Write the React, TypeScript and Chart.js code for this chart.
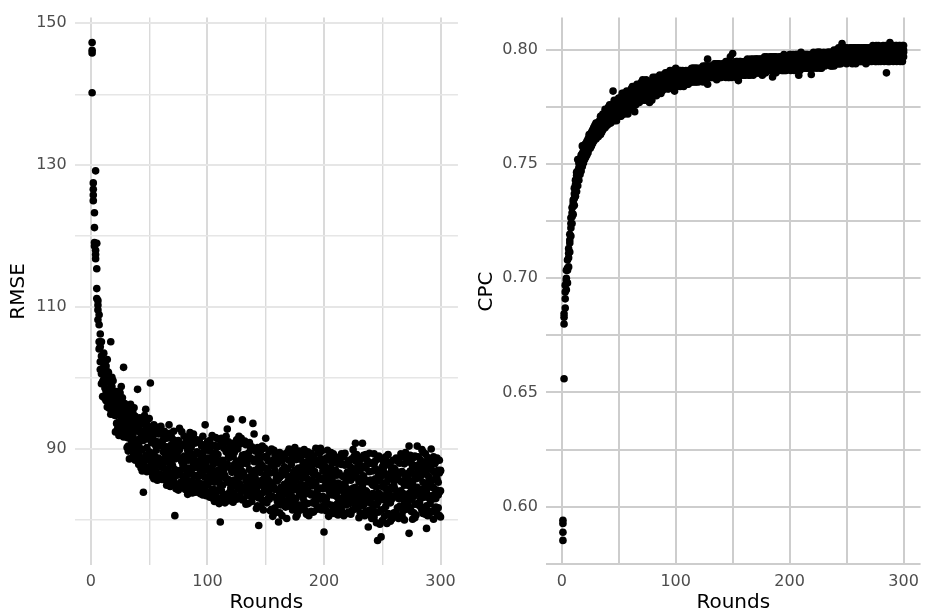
import { useEffect, useRef } from "react";
import { Chart, registerables } from "chart.js";

Chart.register(...registerables);
Chart.defaults.font.family = "'DejaVu Sans', 'Liberation Sans', sans-serif";

// Training rounds (x) shared by every run
const rounds = Array.from({ length: 300 }, (_, i) => i + 1);

// RMSE per round, four runs
const rmseRunA = [
  147.3, 127.5, 123.3, 118.0, 115.4, 110.3, 107.5, 106.2, 103.1, 101.2,
  99.8, 102.4, 98.1, 100.9, 97.2, 99.6, 96.4, 98.8, 95.1, 97.9,
  94.7, 97.6, 95.2, 93.8, 97.9, 94.3, 92.6, 96.1, 93.4, 95.0,
  91.6, 94.8, 92.3, 90.1, 95.4, 91.9, 89.6, 93.7, 90.8, 92.5,
  89.4, 92.6, 88.1, 91.7, 93.9, 87.6, 95.6, 90.2, 88.8, 92.1,
  99.3, 88.4, 91.5, 87.2, 90.6, 86.9, 92.3, 88.7, 90.9, 86.4,
  87.4, 91.3, 85.9, 89.2, 86.6, 92.0, 88.1, 85.2, 90.6, 87.7,
  85.8, 80.6, 89.9, 86.3, 91.2, 84.6, 88.5, 92.4, 86.1, 89.0,
  84.3, 88.9, 86.4, 91.6, 85.1, 89.3, 83.8, 87.9, 90.8, 86.2,
  89.6, 85.3, 88.1, 83.7, 90.4, 86.9, 84.5, 93.4, 87.6, 85.8,
  88.4, 83.2, 90.3, 85.6, 87.8, 82.6, 89.1, 86.3, 91.4, 84.1,
  79.7, 87.5, 84.9, 90.1, 86.2, 83.0, 92.8, 85.7, 88.8, 94.2,
  86.7, 82.5, 89.5, 84.8, 91.3, 87.0, 91.8, 83.4, 88.6, 94.1,
  84.6, 89.2, 82.2, 87.9, 85.3, 90.9, 83.8, 86.4, 93.6, 85.0,
  89.7, 84.2, 86.8, 79.2, 88.1, 83.6, 90.4, 85.2, 87.3, 91.5,
  84.1, 88.3, 82.9, 86.6, 90.0, 83.3, 87.5, 81.7, 85.8, 89.4,
  79.7, 86.0, 88.9, 83.4, 86.5, 82.2, 89.3, 84.7, 87.2, 90.0,
  86.1, 82.8, 88.7, 84.2, 90.2, 83.0, 86.6, 81.2, 89.7, 85.0,
  84.3, 88.1, 82.6, 86.9, 83.7, 89.6, 85.4, 81.0, 87.7, 84.8,
  86.4, 82.7, 90.1, 84.0, 87.8, 83.3, 90.1, 85.7, 81.9, 78.3,
  84.8, 88.7, 82.3, 86.1, 80.8, 87.4, 83.5, 89.3, 85.2, 81.6,
  86.3, 83.1, 88.6, 81.8, 85.0, 89.1, 82.7, 87.7, 80.9, 84.4,
  85.8, 82.3, 87.4, 83.7, 89.9, 81.5, 90.8, 84.2, 86.9, 80.3,
  83.6, 87.5, 90.8, 82.1, 85.7, 81.2, 88.4, 79.0, 86.8, 83.1,
  85.1, 81.6, 87.8, 83.2, 79.6, 77.1, 86.4, 82.8, 77.6, 84.7,
  86.9, 80.5, 84.4, 88.1, 82.7, 85.9, 79.8, 87.2, 83.3, 81.0,
  84.3, 88.7, 81.7, 86.4, 83.0, 89.3, 80.6, 85.5, 87.9, 82.2,
  86.5, 82.4, 90.4, 84.8, 81.2, 87.6, 83.3, 85.9, 80.7, 90.4,
  84.0, 87.8, 81.8, 89.9, 83.5, 86.6, 80.8, 78.8, 85.2, 88.5,
  85.6, 90.0, 82.9, 86.8, 81.5, 88.2, 84.2, 87.0, 80.6, 86.9,
];

const rmseRunB = [
  146.2, 126.6, 121.2, 129.2, 112.6, 110.9, 104.1, 102.3, 100.6, 99.5,
  103.5, 98.6, 101.7, 97.4, 99.9, 96.8, 105.1, 95.9, 98.2, 94.8,
  97.8, 93.6, 96.9, 95.5, 92.7, 98.8, 95.6, 101.5, 92.2, 94.1,
  95.7, 90.4, 93.9, 96.3, 89.8, 93.2, 95.8, 90.6, 94.1, 89.2,
  93.1, 88.7, 91.8, 86.9, 83.9, 92.4, 89.1, 93.5, 91.4, 87.3,
  87.6, 92.8, 86.1, 91.2, 88.9, 93.1, 87.8, 90.4, 85.9, 93.2,
  90.8, 86.2, 92.5, 87.1, 90.3, 85.4, 93.4, 89.7, 86.0, 91.4,
  89.7, 87.1, 84.4, 90.8, 86.9, 92.9, 85.3, 88.2, 90.6, 84.8,
  90.5, 85.7, 89.8, 84.1, 92.3, 86.8, 88.6, 85.0, 87.4, 91.1,
  84.8, 90.9, 86.2, 89.3, 85.1, 91.8, 88.0, 84.2, 90.1, 88.7,
  85.2, 89.7, 84.0, 91.9, 86.1, 88.6, 83.5, 90.2, 85.4, 88.0,
  88.3, 84.1, 90.7, 86.6, 82.4, 89.6, 85.3, 91.0, 83.9, 87.2,
  83.2, 88.9, 85.6, 90.4, 82.9, 86.3, 88.1, 90.7, 84.0, 86.8,
  88.0, 84.3, 90.6, 83.6, 89.4, 85.9, 88.7, 82.6, 86.0, 92.1,
  83.5, 88.6, 82.0, 87.4, 85.0, 89.8, 82.8, 88.9, 84.6, 86.4,
  87.2, 83.0, 89.6, 85.3, 81.5, 88.4, 84.6, 86.9, 83.1, 87.9,
  85.8, 89.5, 82.1, 87.0, 84.0, 88.7, 81.8, 86.3, 83.5, 88.4,
  83.9, 87.8, 81.4, 86.7, 84.8, 88.5, 80.7, 87.3, 83.6, 88.9,
  87.4, 83.1, 89.9, 84.6, 88.2, 82.3, 86.8, 89.0, 83.5, 87.1,
  83.6, 88.5, 85.1, 81.5, 86.2, 89.4, 82.9, 87.6, 84.4, 88.0,
  87.5, 83.0, 89.8, 84.2, 86.9, 82.1, 88.2, 84.7, 80.9, 87.0,
  82.2, 87.9, 84.8, 88.2, 81.4, 86.1, 83.3, 89.4, 85.5, 82.9,
  81.1, 86.5, 83.9, 88.6, 82.8, 87.1, 84.6, 89.2, 81.7, 85.4,
  86.9, 82.4, 84.8, 89.1, 80.6, 87.3, 83.9, 85.5, 81.4, 88.0,
  82.3, 86.9, 80.4, 88.3, 84.6, 85.5, 81.1, 88.8, 83.5, 79.9,
  83.1, 87.6, 81.9, 85.3, 89.2, 80.8, 86.6, 82.9, 88.4, 84.8,
  87.1, 83.4, 85.9, 80.2, 88.0, 84.1, 86.8, 81.3, 84.9, 89.5,
  83.0, 88.6, 78.1, 86.9, 84.4, 80.1, 88.8, 82.2, 87.4, 84.6,
  86.7, 82.5, 88.4, 84.3, 89.6, 81.6, 87.3, 83.8, 80.6, 86.0,
  82.3, 87.1, 84.7, 80.1, 87.9, 83.0, 85.8, 81.7, 88.4, 80.4,
];

const rmseRunC = [
  145.8, 125.8, 119.1, 117.4, 111.2, 109.6, 108.9, 104.4, 99.2, 97.4,
  97.4, 100.2, 96.8, 102.6, 98.4, 95.7, 99.1, 97.3, 99.6, 96.3,
  95.3, 98.1, 92.9, 96.7, 94.8, 93.1, 97.2, 93.9, 96.4, 91.8,
  92.9, 89.7, 96.1, 91.4, 93.6, 88.9, 92.7, 94.6, 88.7, 91.3,
  90.7, 94.4, 87.3, 89.9, 91.2, 88.4, 92.8, 86.8, 93.2, 89.6,
  91.9, 86.7, 89.4, 93.4, 87.3, 89.8, 85.6, 92.1, 88.2, 90.7,
  85.7, 89.6, 88.3, 91.9, 84.9, 88.8, 86.5, 92.2, 88.4, 85.1,
  92.5, 88.6, 91.1, 85.0, 88.8, 86.4, 90.3, 84.9, 87.7, 91.8,
  87.1, 91.4, 83.6, 88.4, 86.7, 90.2, 85.5, 92.1, 84.7, 88.3,
  91.3, 87.4, 83.9, 86.6, 88.9, 83.5, 90.6, 87.1, 85.2, 91.0,
  90.8, 86.5, 87.2, 83.1, 89.4, 85.3, 91.6, 84.2, 87.0, 82.3,
  85.0, 91.5, 83.3, 88.0, 90.9, 85.8, 87.9, 82.7, 90.2, 84.5,
  89.9, 85.1, 87.8, 83.0, 88.3, 84.4, 85.9, 87.4, 91.5, 82.8,
  86.5, 91.1, 85.5, 88.8, 82.3, 87.1, 84.0, 90.3, 84.8, 88.2,
  87.0, 85.4, 90.2, 83.1, 86.7, 81.9, 87.6, 83.9, 90.1, 82.7,
  82.4, 86.8, 85.0, 81.3, 87.7, 85.1, 80.9, 89.1, 86.4, 82.6,
  88.4, 83.7, 86.2, 80.6, 89.2, 85.0, 86.9, 82.4, 89.6, 84.2,
  89.4, 84.9, 86.3, 82.0, 87.0, 85.7, 89.1, 84.4, 86.2, 81.6,
  82.0, 86.3, 84.9, 81.3, 85.9, 87.5, 80.6, 85.2, 89.4, 82.4,
  89.0, 84.9, 82.2, 87.9, 83.0, 85.8, 88.6, 81.4, 86.9, 83.2,
  82.6, 86.4, 84.9, 80.5, 88.4, 85.3, 81.2, 86.8, 89.0, 83.4,
  88.8, 85.2, 81.0, 84.6, 87.8, 82.4, 88.9, 83.6, 86.3, 88.0,
  87.9, 84.0, 80.8, 85.9, 86.7, 83.4, 88.3, 82.5, 87.6, 83.0,
  81.0, 85.9, 87.6, 83.5, 88.7, 84.1, 80.9, 87.9, 83.3, 85.6,
  88.0, 83.7, 85.2, 81.0, 87.1, 82.4, 89.0, 79.4, 86.2, 87.5,
  81.5, 85.2, 88.9, 79.5, 86.0, 83.7, 88.1, 84.6, 80.3, 87.3,
  80.8, 86.2, 83.8, 88.5, 81.9, 85.4, 83.2, 88.9, 82.6, 85.7,
  88.2, 84.9, 85.5, 81.6, 88.0, 85.1, 81.0, 89.0, 84.1, 82.3,
  82.1, 85.9, 83.0, 87.0, 80.9, 88.1, 84.7, 86.4, 88.8, 83.1,
  87.8, 83.4, 88.6, 84.5, 83.6, 86.4, 80.9, 85.3, 83.9, 84.1,
];

const rmseRunD = [
  140.2, 125.0, 118.6, 116.8, 119.0, 108.2, 105.1, 101.2, 105.1, 100.6,
  101.6, 97.1, 99.5, 95.9, 100.8, 98.2, 94.9, 100.1, 96.6, 95.3,
  92.4, 95.9, 97.3, 91.9, 95.6, 96.2, 93.5, 91.7, 94.9, 93.2,
  90.2, 93.3, 88.6, 94.2, 91.1, 95.1, 90.3, 88.4, 93.0, 98.4,
  87.8, 90.1, 93.6, 92.5, 88.2, 94.7, 87.4, 91.6, 89.0, 94.3,
  88.3, 90.9, 93.0, 85.8, 92.2, 88.1, 91.0, 86.3, 92.7, 88.5,
  92.1, 87.9, 90.1, 86.4, 91.5, 87.2, 89.8, 84.7, 91.7, 89.3,
  86.6, 90.4, 86.8, 89.4, 84.2, 89.9, 87.0, 90.7, 85.2, 88.1,
  86.0, 84.9, 90.7, 87.3, 89.5, 84.4, 91.2, 86.3, 89.1, 83.9,
  86.3, 88.2, 91.1, 84.6, 87.7, 89.5, 86.1, 89.8, 83.4, 84.9,
  83.8, 91.2, 85.9, 88.7, 84.3, 90.5, 86.8, 82.9, 89.2, 86.6,
  90.6, 86.0, 88.4, 82.8, 87.4, 91.8, 83.6, 88.9, 85.5, 89.8,
  85.4, 90.8, 83.7, 87.6, 85.2, 90.0, 83.1, 85.0, 86.2, 89.1,
  82.9, 86.1, 88.3, 84.5, 90.7, 83.4, 89.9, 85.8, 88.5, 83.3,
  85.9, 81.6, 84.7, 89.1, 83.4, 87.8, 85.6, 81.4, 86.0, 88.8,
  89.0, 85.7, 83.6, 88.2, 84.4, 80.5, 89.8, 84.3, 81.1, 85.5,
  83.2, 81.0, 84.6, 88.3, 82.7, 87.5, 84.1, 80.2, 85.4, 82.9,
  81.9, 85.6, 83.2, 89.5, 82.5, 80.4, 84.3, 88.6, 82.1, 86.5,
  85.9, 81.7, 87.0, 89.2, 80.8, 84.1, 88.3, 83.8, 81.2, 85.6,
  81.1, 86.8, 88.0, 83.7, 89.5, 81.8, 84.5, 89.7, 83.3, 85.9,
  85.7, 81.3, 87.2, 88.9, 83.8, 89.5, 85.9, 82.0, 84.3, 88.1,
  83.9, 80.7, 86.6, 83.0, 89.3, 84.1, 80.6, 85.0, 82.1, 86.7,
  83.2, 88.4, 85.6, 81.3, 84.5, 89.0, 81.9, 86.0, 83.8, 88.2,
  88.5, 84.4, 82.0, 86.2, 83.0, 89.2, 85.4, 82.5, 89.4, 80.7,
  80.2, 84.9, 89.3, 85.8, 82.1, 88.6, 83.8, 85.6, 81.4, 83.0,
  88.2, 82.8, 86.3, 83.6, 80.9, 87.8, 82.4, 80.1, 85.7, 86.1,
  85.6, 81.1, 88.3, 83.0, 86.7, 80.4, 89.1, 83.7, 80.0, 86.3,
  81.5, 86.1, 83.7, 89.1, 82.9, 83.8, 86.5, 80.3, 85.8, 87.7,
  88.9, 83.6, 86.2, 81.4, 85.3, 83.2, 89.3, 82.0, 84.5, 81.2,
  81.0, 85.5, 81.2, 88.9, 85.7, 81.8, 88.7, 83.5, 86.6, 87.0,
];

// CPC per round, four runs
const cpcRunA = [
  0.594, 0.656, 0.687, 0.700, 0.7035, 0.711, 0.7168, 0.724, 0.7287, 0.7343,
  0.737, 0.743, 0.745, 0.752, 0.7505, 0.7525, 0.754, 0.7548, 0.757, 0.7585,
  0.759, 0.754, 0.761, 0.757, 0.763, 0.758, 0.765, 0.760, 0.767, 0.762,
  0.766, 0.762, 0.769, 0.765, 0.770, 0.767, 0.772, 0.766, 0.773, 0.769,
  0.772, 0.768, 0.775, 0.770, 0.782, 0.772, 0.777, 0.771, 0.778, 0.774,
  0.776, 0.771, 0.779, 0.774, 0.780, 0.773, 0.778, 0.775, 0.781, 0.777,
  0.780, 0.776, 0.783, 0.773, 0.781, 0.778, 0.784, 0.779, 0.782, 0.786,
  0.787, 0.780, 0.784, 0.778, 0.786, 0.781, 0.785, 0.779, 0.783, 0.788,
  0.785, 0.781, 0.787, 0.783, 0.788, 0.782, 0.786, 0.784, 0.789, 0.785,
  0.788, 0.784, 0.790, 0.785, 0.789, 0.786, 0.791, 0.787, 0.782, 0.789,
  0.786, 0.790, 0.785, 0.789, 0.787, 0.791, 0.786, 0.790, 0.788, 0.785,
  0.789, 0.786, 0.791, 0.788, 0.792, 0.787, 0.790, 0.786, 0.791, 0.789,
  0.790, 0.787, 0.792, 0.789, 0.791, 0.788, 0.793, 0.796, 0.789, 0.792,
  0.791, 0.788, 0.793, 0.790, 0.794, 0.789, 0.792, 0.788, 0.793, 0.791,
  0.792, 0.789, 0.794, 0.790, 0.793, 0.788, 0.795, 0.791, 0.794, 0.7985,
  0.791, 0.794, 0.790, 0.795, 0.7866, 0.793, 0.790, 0.794, 0.791, 0.795,
  0.792, 0.795, 0.790, 0.794, 0.791, 0.796, 0.792, 0.789, 0.795, 0.791,
  0.794, 0.790, 0.795, 0.792, 0.796, 0.791, 0.794, 0.797, 0.792, 0.795,
  0.793, 0.796, 0.791, 0.795, 0.7882, 0.794, 0.797, 0.792, 0.795, 0.791,
  0.796, 0.792, 0.797, 0.793, 0.795, 0.791, 0.796, 0.794, 0.797, 0.792,
  0.795, 0.792, 0.797, 0.794, 0.798, 0.793, 0.796, 0.789, 0.795, 0.799,
  0.796, 0.793, 0.798, 0.794, 0.797, 0.792, 0.796, 0.798, 0.7893, 0.795,
  0.797, 0.793, 0.798, 0.795, 0.799, 0.794, 0.797, 0.792, 0.796, 0.799,
  0.795, 0.798, 0.794, 0.799, 0.796, 0.793, 0.798, 0.795, 0.800, 0.796,
  0.798, 0.794, 0.799, 0.796, 0.800, 0.8028, 0.797, 0.795, 0.799, 0.801,
  0.797, 0.800, 0.795, 0.799, 0.796, 0.801, 0.797, 0.794, 0.800, 0.798,
  0.799, 0.795, 0.800, 0.797, 0.801, 0.796, 0.799, 0.795, 0.800, 0.798,
  0.798, 0.801, 0.796, 0.800, 0.797, 0.802, 0.798, 0.795, 0.801, 0.799,
  0.799, 0.796, 0.801, 0.797, 0.790, 0.800, 0.798, 0.8033, 0.797, 0.801,
  0.800, 0.797, 0.802, 0.798, 0.801, 0.796, 0.800, 0.797, 0.802, 0.799,
];

const cpcRunB = [
  0.5926, 0.680, 0.691, 0.695, 0.698, 0.705, 0.7115, 0.7185, 0.724, 0.728,
  0.732, 0.736, 0.738, 0.7405, 0.743, 0.7455, 0.747, 0.749, 0.7505, 0.752,
  0.753, 0.760, 0.755, 0.762, 0.757, 0.764, 0.759, 0.766, 0.761, 0.768,
  0.763, 0.768, 0.765, 0.771, 0.766, 0.772, 0.768, 0.774, 0.770, 0.767,
  0.769, 0.774, 0.771, 0.776, 0.773, 0.778, 0.770, 0.776, 0.772, 0.779,
  0.773, 0.779, 0.775, 0.781, 0.772, 0.777, 0.782, 0.776, 0.774, 0.780,
  0.777, 0.782, 0.779, 0.784, 0.776, 0.783, 0.778, 0.781, 0.785, 0.780,
  0.779, 0.785, 0.782, 0.787, 0.780, 0.784, 0.777, 0.786, 0.781, 0.784,
  0.782, 0.786, 0.780, 0.785, 0.783, 0.789, 0.781, 0.787, 0.783, 0.788,
  0.785, 0.789, 0.783, 0.788, 0.786, 0.790, 0.784, 0.789, 0.787, 0.785,
  0.789, 0.786, 0.791, 0.787, 0.790, 0.785, 0.789, 0.786, 0.791, 0.789,
  0.787, 0.791, 0.788, 0.792, 0.786, 0.790, 0.788, 0.792, 0.787, 0.791,
  0.788, 0.792, 0.789, 0.786, 0.790, 0.793, 0.788, 0.785, 0.791, 0.788,
  0.789, 0.793, 0.790, 0.792, 0.788, 0.791, 0.794, 0.790, 0.789, 0.793,
  0.790, 0.794, 0.791, 0.795, 0.789, 0.792, 0.790, 0.797, 0.790, 0.793,
  0.794, 0.790, 0.793, 0.789, 0.792, 0.795, 0.791, 0.789, 0.794, 0.790,
  0.790, 0.793, 0.796, 0.791, 0.794, 0.790, 0.795, 0.792, 0.790, 0.794,
  0.791, 0.796, 0.792, 0.794, 0.790, 0.795, 0.792, 0.790, 0.796, 0.791,
  0.796, 0.792, 0.795, 0.791, 0.794, 0.797, 0.791, 0.795, 0.793, 0.796,
  0.792, 0.796, 0.793, 0.797, 0.791, 0.795, 0.793, 0.797, 0.792, 0.796,
  0.793, 0.797, 0.794, 0.791, 0.796, 0.798, 0.792, 0.796, 0.793, 0.795,
  0.793, 0.797, 0.795, 0.798, 0.792, 0.796, 0.793, 0.795, 0.797, 0.793,
  0.794, 0.798, 0.795, 0.792, 0.797, 0.799, 0.794, 0.797, 0.793, 0.796,
  0.798, 0.794, 0.797, 0.795, 0.799, 0.796, 0.793, 0.799, 0.795, 0.798,
  0.795, 0.799, 0.797, 0.800, 0.794, 0.797, 0.800, 0.797, 0.795, 0.798,
  0.800, 0.796, 0.798, 0.795, 0.800, 0.797, 0.799, 0.801, 0.795, 0.799,
  0.796, 0.800, 0.797, 0.795, 0.799, 0.801, 0.796, 0.800, 0.797, 0.795,
  0.801, 0.797, 0.799, 0.796, 0.801, 0.797, 0.800, 0.802, 0.796, 0.800,
  0.796, 0.800, 0.797, 0.802, 0.798, 0.795, 0.801, 0.797, 0.800, 0.796,
  0.797, 0.801, 0.796, 0.800, 0.798, 0.802, 0.795, 0.801, 0.797, 0.800,
];

const cpcRunC = [
  0.5888, 0.683, 0.694, 0.699, 0.7045, 0.709, 0.7155, 0.722, 0.727, 0.7315,
  0.735, 0.738, 0.742, 0.744, 0.746, 0.7485, 0.7505, 0.752, 0.7535, 0.755,
  0.757, 0.755, 0.759, 0.763, 0.761, 0.760, 0.764, 0.761, 0.763, 0.766,
  0.768, 0.765, 0.767, 0.763, 0.769, 0.765, 0.770, 0.769, 0.767, 0.773,
  0.775, 0.771, 0.768, 0.773, 0.770, 0.775, 0.773, 0.769, 0.776, 0.771,
  0.779, 0.774, 0.772, 0.777, 0.776, 0.780, 0.774, 0.779, 0.777, 0.775,
  0.783, 0.779, 0.776, 0.780, 0.784, 0.777, 0.781, 0.785, 0.778, 0.783,
  0.783, 0.778, 0.786, 0.781, 0.783, 0.779, 0.782, 0.784, 0.778, 0.782,
  0.787, 0.783, 0.785, 0.788, 0.781, 0.784, 0.788, 0.782, 0.786, 0.783,
  0.790, 0.786, 0.788, 0.783, 0.791, 0.784, 0.788, 0.785, 0.790, 0.786,
  0.784, 0.788, 0.787, 0.791, 0.785, 0.788, 0.790, 0.787, 0.785, 0.790,
  0.791, 0.788, 0.786, 0.789, 0.790, 0.788, 0.792, 0.789, 0.788, 0.786,
  0.792, 0.789, 0.787, 0.791, 0.788, 0.790, 0.791, 0.789, 0.793, 0.790,
  0.793, 0.790, 0.788, 0.794, 0.791, 0.793, 0.789, 0.792, 0.791, 0.788,
  0.794, 0.791, 0.789, 0.792, 0.795, 0.790, 0.793, 0.789, 0.792, 0.789,
  0.789, 0.792, 0.795, 0.791, 0.794, 0.789, 0.793, 0.792, 0.790, 0.793,
  0.795, 0.790, 0.792, 0.789, 0.795, 0.792, 0.790, 0.794, 0.792, 0.796,
  0.796, 0.792, 0.790, 0.796, 0.793, 0.789, 0.796, 0.794, 0.790, 0.793,
  0.791, 0.794, 0.797, 0.793, 0.796, 0.790, 0.794, 0.797, 0.791, 0.794,
  0.794, 0.797, 0.791, 0.795, 0.798, 0.793, 0.791, 0.795, 0.794, 0.798,
  0.798, 0.794, 0.792, 0.796, 0.793, 0.795, 0.798, 0.793, 0.797, 0.792,
  0.798, 0.794, 0.792, 0.796, 0.795, 0.798, 0.794, 0.792, 0.795, 0.798,
  0.799, 0.795, 0.793, 0.797, 0.794, 0.796, 0.799, 0.795, 0.798, 0.794,
  0.793, 0.797, 0.799, 0.794, 0.797, 0.799, 0.795, 0.797, 0.793, 0.797,
  0.800, 0.796, 0.794, 0.798, 0.797, 0.795, 0.798, 0.800, 0.797, 0.794,
  0.795, 0.799, 0.801, 0.797, 0.794, 0.799, 0.796, 0.798, 0.799, 0.796,
  0.801, 0.797, 0.795, 0.800, 0.797, 0.798, 0.801, 0.797, 0.795, 0.800,
  0.796, 0.800, 0.802, 0.798, 0.795, 0.800, 0.796, 0.799, 0.798, 0.795,
  0.801, 0.798, 0.795, 0.799, 0.801, 0.797, 0.795, 0.800, 0.798, 0.802,
  0.802, 0.798, 0.800, 0.795, 0.797, 0.800, 0.802, 0.798, 0.795, 0.797,
];

const cpcRunD = [
  0.5852, 0.6845, 0.697, 0.7035, 0.708, 0.713, 0.7193, 0.7265, 0.731, 0.733,
  0.7395, 0.741, 0.7465, 0.747, 0.7485, 0.751, 0.7525, 0.758, 0.7555, 0.757,
  0.755, 0.758, 0.756, 0.760, 0.759, 0.763, 0.760, 0.764, 0.765, 0.761,
  0.764, 0.767, 0.763, 0.768, 0.764, 0.770, 0.766, 0.771, 0.768, 0.772,
  0.770, 0.776, 0.773, 0.769, 0.776, 0.769, 0.774, 0.778, 0.774, 0.777,
  0.771, 0.777, 0.781, 0.772, 0.778, 0.775, 0.776, 0.772, 0.779, 0.782,
  0.778, 0.784, 0.781, 0.777, 0.779, 0.785, 0.780, 0.777, 0.781, 0.779,
  0.781, 0.783, 0.779, 0.784, 0.782, 0.786, 0.780, 0.782, 0.785, 0.780,
  0.780, 0.788, 0.784, 0.781, 0.786, 0.783, 0.785, 0.788, 0.784, 0.787,
  0.783, 0.787, 0.785, 0.790, 0.784, 0.788, 0.786, 0.791, 0.785, 0.792,
  0.791, 0.785, 0.789, 0.784, 0.789, 0.787, 0.784, 0.789, 0.787, 0.788,
  0.785, 0.790, 0.789, 0.786, 0.788, 0.792, 0.786, 0.790, 0.792, 0.790,
  0.787, 0.791, 0.790, 0.793, 0.787, 0.789, 0.787, 0.792, 0.788, 0.791,
  0.788, 0.792, 0.791, 0.789, 0.792, 0.787, 0.791, 0.794, 0.788, 0.790,
  0.789, 0.793, 0.792, 0.788, 0.791, 0.794, 0.788, 0.793, 0.788, 0.791,
  0.793, 0.791, 0.788, 0.793, 0.790, 0.792, 0.795, 0.791, 0.793, 0.789,
  0.789, 0.794, 0.791, 0.795, 0.789, 0.793, 0.791, 0.796, 0.793, 0.790,
  0.790, 0.794, 0.793, 0.790, 0.795, 0.793, 0.790, 0.793, 0.794, 0.797,
  0.795, 0.791, 0.793, 0.797, 0.792, 0.795, 0.792, 0.790, 0.796, 0.792,
  0.797, 0.793, 0.795, 0.791, 0.794, 0.797, 0.795, 0.792, 0.796, 0.794,
  0.791, 0.796, 0.798, 0.793, 0.795, 0.792, 0.794, 0.797, 0.791, 0.796,
  0.792, 0.795, 0.797, 0.793, 0.798, 0.794, 0.797, 0.795, 0.793, 0.796,
  0.792, 0.796, 0.797, 0.799, 0.793, 0.795, 0.792, 0.798, 0.795, 0.797,
  0.797, 0.795, 0.796, 0.798, 0.794, 0.797, 0.796, 0.794, 0.798, 0.794,
  0.796, 0.797, 0.801, 0.794, 0.798, 0.799, 0.795, 0.798, 0.801, 0.796,
  0.799, 0.797, 0.796, 0.801, 0.798, 0.795, 0.801, 0.797, 0.797, 0.801,
  0.795, 0.799, 0.801, 0.796, 0.796, 0.799, 0.794, 0.798, 0.801, 0.797,
  0.800, 0.795, 0.797, 0.801, 0.799, 0.795, 0.801, 0.797, 0.800, 0.797,
  0.797, 0.802, 0.799, 0.796, 0.800, 0.802, 0.797, 0.795, 0.802, 0.798,
  0.795, 0.799, 0.797, 0.802, 0.800, 0.798, 0.797, 0.796, 0.800, 0.802,
];

// Axis breaks
const roundMajorTicks = [0, 100, 200, 300];
const roundMinorTicks = [50, 150, 250];
const rmseMajorTicks = [90, 110, 130, 150];
const rmseMinorTicks = [80, 100, 120, 140];
const cpcMajorTicks = [0.6, 0.65, 0.7, 0.75, 0.8];
const cpcMinorTicks = [0.575, 0.625, 0.675, 0.725, 0.775];

const CANVAS_W = 463;
const CANVAS_H = 615;
const PANEL_TOP = 13.3;
const PANEL_BOTTOM = 565.3;

interface PanelSpec {
  runs: number[][];
  yTitle: string;
  yMin: number;
  yMax: number;
  yMajor: number[];
  yMinor: number[];
  yLabel: (v: number) => string;
  yAxisWidth: number;
  rightPad: number;
  yTitlePad: number;
  xGridColor: string;
  yGridColor: string;
  majorWidth: number;
  minorWidth: number;
}

const isIn = (list: number[], v: number) => list.some((t) => Math.abs(t - v) < 1e-9);

function toPoints(runs: number[][]) {
  const pts: { x: number; y: number }[] = [];
  runs.forEach((run) => run.forEach((v, i) => pts.push({ x: rounds[i], y: v })));
  return pts;
}

function makeConfig(p: PanelSpec): any {
  const xTicks = [...roundMajorTicks, ...roundMinorTicks].sort((a, b) => a - b);
  const yTicks = [...p.yMajor, ...p.yMinor].sort((a, b) => a - b);
  return {
    type: "scatter",
    data: {
      datasets: [
        {
          data: toPoints(p.runs),
          backgroundColor: "#000000",
          borderWidth: 0,
          pointRadius: 3.8,
          pointHoverRadius: 3.8,
        },
      ],
    },
    options: {
      animation: false,
      responsive: false,
      devicePixelRatio: 1,
      events: [],
      layout: { padding: { top: PANEL_TOP, right: p.rightPad, left: 0, bottom: 0 } },
      plugins: { legend: { display: false }, tooltip: { enabled: false } },
      scales: {
        x: {
          type: "linear",
          min: -13.95,
          max: 314.95,
          afterBuildTicks: (s: any) => {
            s.ticks = xTicks.map((v) => ({ value: v }));
          },
          afterFit: (s: any) => {
            s.height = CANVAS_H - PANEL_BOTTOM;
          },
          border: { display: false },
          grid: {
            drawTicks: false,
            color: p.xGridColor,
            lineWidth: (c: any) => (isIn(roundMajorTicks, c.tick?.value) ? p.majorWidth : p.minorWidth),
          },
          ticks: {
            autoSkip: false,
            maxRotation: 0,
            minRotation: 0,
            padding: 7,
            color: "#4d4d4d",
            font: { size: 16 },
            callback: (v: number) => (isIn(roundMajorTicks, v) ? String(v) : ""),
          },
          title: {
            display: true,
            text: "Rounds",
            color: "#000000",
            font: { size: 20 },
            padding: { top: 0, bottom: 0 },
          },
        },
        y: {
          type: "linear",
          min: p.yMin,
          max: p.yMax,
          afterBuildTicks: (s: any) => {
            s.ticks = yTicks.map((v) => ({ value: v }));
          },
          afterFit: (s: any) => {
            s.width = p.yAxisWidth;
          },
          border: { display: false },
          grid: {
            drawTicks: false,
            color: p.yGridColor,
            lineWidth: (c: any) => (isIn(p.yMajor, c.tick?.value) ? p.majorWidth : p.minorWidth),
          },
          ticks: {
            autoSkip: false,
            padding: 8,
            color: "#4d4d4d",
            font: { size: 16 },
            callback: (v: number) => (isIn(p.yMajor, v) ? p.yLabel(v) : ""),
          },
          title: {
            display: true,
            text: p.yTitle,
            color: "#000000",
            font: { size: 20 },
            padding: { top: p.yTitlePad, bottom: 0 },
          },
        },
      },
    },
  };
}

const rmsePanel: PanelSpec = {
  runs: [rmseRunA, rmseRunB, rmseRunC, rmseRunD],
  yTitle: "RMSE",
  yMin: 73.6,
  yMax: 150.8,
  yMajor: rmseMajorTicks,
  yMinor: rmseMinorTicks,
  yLabel: (v) => String(v),
  yAxisWidth: 74.7,
  rightPad: 4.6,
  yTitlePad: 7,
  xGridColor: "#dadada",
  yGridColor: "#e6e6e6",
  majorWidth: 2,
  minorWidth: 1.4,
};

const cpcPanel: PanelSpec = {
  runs: [cpcRunA, cpcRunB, cpcRunC, cpcRunD],
  yTitle: "CPC",
  yMin: 0.5743,
  yMax: 0.8142,
  yMajor: cpcMajorTicks,
  yMinor: cpcMinorTicks,
  yLabel: (v) => v.toFixed(2),
  yAxisWidth: 82.9,
  rightPad: 0,
  yTitlePad: 12,
  xGridColor: "#cdcdcd",
  yGridColor: "#cdcdcd",
  majorWidth: 2,
  minorWidth: 2,
};

function Panel({ spec, left }: { spec: PanelSpec; left: number }) {
  const ref = useRef<HTMLCanvasElement | null>(null);
  useEffect(() => {
    if (!ref.current) return;
    const chart = new Chart(ref.current, makeConfig(spec));
    return () => chart.destroy();
  }, [spec]);
  return (
    <canvas
      ref={ref}
      width={CANVAS_W}
      height={CANVAS_H}
      style={{ position: "absolute", left, top: 0, width: CANVAS_W, height: CANVAS_H }}
    />
  );
}

export default function App() {
  return (
    <div
      style={{
        position: "fixed",
        left: 0,
        top: 0,
        width: 926,
        height: 615,
        background: "#ffffff",
        overflow: "hidden",
      }}
    >
      <Panel spec={rmsePanel} left={0} />
      <Panel spec={cpcPanel} left={463} />
    </div>
  );
}
